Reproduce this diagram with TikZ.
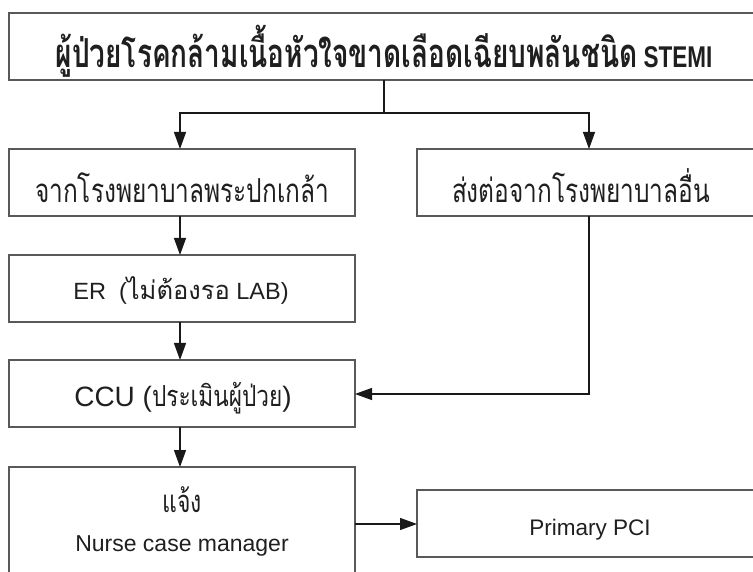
\documentclass[tikz,border=0pt]{standalone}
\usepackage{fontspec}
\setmainfont{Liberation Sans}
\newfontfamily\thaia[Script=Thai,FakeStretch=0.74]{Loma}
\newfontfamily\thaib[Script=Thai,FakeStretch=0.7]{Loma}
\newfontfamily\thaic[Script=Thai]{Loma}
\newfontfamily\thaid[Script=Thai,FakeStretch=0.78]{Loma}
\usetikzlibrary{arrows.meta}
\begin{document}
\begin{tikzpicture}[x=1pt,y=-1pt,
  box/.style={draw=black!65,line width=1.4pt},
  lbl/.style={inner sep=0pt,anchor=base,text=black!88},
  conn/.style={line width=1.2pt,black!90},
  arr/.style={conn,-{Triangle[width=12pt,length=17pt]}}]
\useasboundingbox (0,0) rectangle (753,572);
% boxes
\draw[box] (9,13) rectangle (770,80);
\coordinate (topb) at (384,80);
\node[lbl] (top) at (384,68) {{\thaib\bfseries\fontsize{40}{44}\selectfont ผู้ป่วยโรคกล้ามเนื้อหัวใจขาดเลือดเฉียบพลันชนิด}\scalebox{0.75}[1]{\bfseries\fontsize{30}{34}\selectfont\ STEMI}};
\draw[box] (9,149) rectangle (355,216);
\node[lbl] (pk) at (182,203) {\thaia\fontsize{33}{36}\selectfont จากโรงพยาบาลพระปกเกล้า};
\draw[box] (417,149) rectangle (770,216);
\node[lbl] (oth) at (581,203) {\thaia\fontsize{33}{36}\selectfont ส่งต่อจากโรงพยาบาลอื่น};
\draw[box] (9,255) rectangle (355,322);
\node[lbl] (er) at (181,300) {\fontsize{23.5}{27}\selectfont ER\ \ ({\thaic\fontsize{25.5}{28}\selectfont ไม่ต้องรอ} LAB)};
\draw[box] (9,360) rectangle (355,427);
\node[lbl] (ccu) at (183,406) {\fontsize{28}{32}\selectfont CCU ({\thaid\fontsize{29}{32}\selectfont ประเมินผู้ป่วย})};
\draw[box] (9,467) rectangle (355,590);
\node[lbl] (ncm1) at (182,512) {\thaia\fontsize{31}{34}\selectfont แจ้ง};
\node[lbl] (ncm2) at (182,551) {\fontsize{23}{26}\selectfont Nurse case manager};
\draw[box] (417,490) rectangle (770,557);
\node[lbl] (pci) at (590,535) {\fontsize{22.5}{26}\selectfont Primary PCI};
% coordinates on box edges
\coordinate (pkT) at (180,149);
\coordinate (pkB) at (180,216);
\coordinate (othT) at (589,149);
\coordinate (othB) at (589,216);
\coordinate (erT) at (180,255);
\coordinate (erB) at (180,322);
\coordinate (ccuT) at (180,360);
\coordinate (ccuB) at (180,427);
\coordinate (ccuR) at (355,394);
\coordinate (ncmT) at (180,467);
\coordinate (ncmR) at (355,524);
\coordinate (pciL) at (417,524);
\coordinate (split) at (384,113);
% connectors
\draw[conn] (topb) -- (split);
\draw[arr] (split) -| (pkT);
\draw[arr] (split) -| (othT);
\draw[arr] (pkB) -- (erT);
\draw[arr] (erB) -- (ccuT);
\draw[arr] (othB) |- (ccuR);
\draw[arr] (ccuB) -- (ncmT);
\draw[arr] (ncmR) -- (pciL);
\end{tikzpicture}
\end{document}
